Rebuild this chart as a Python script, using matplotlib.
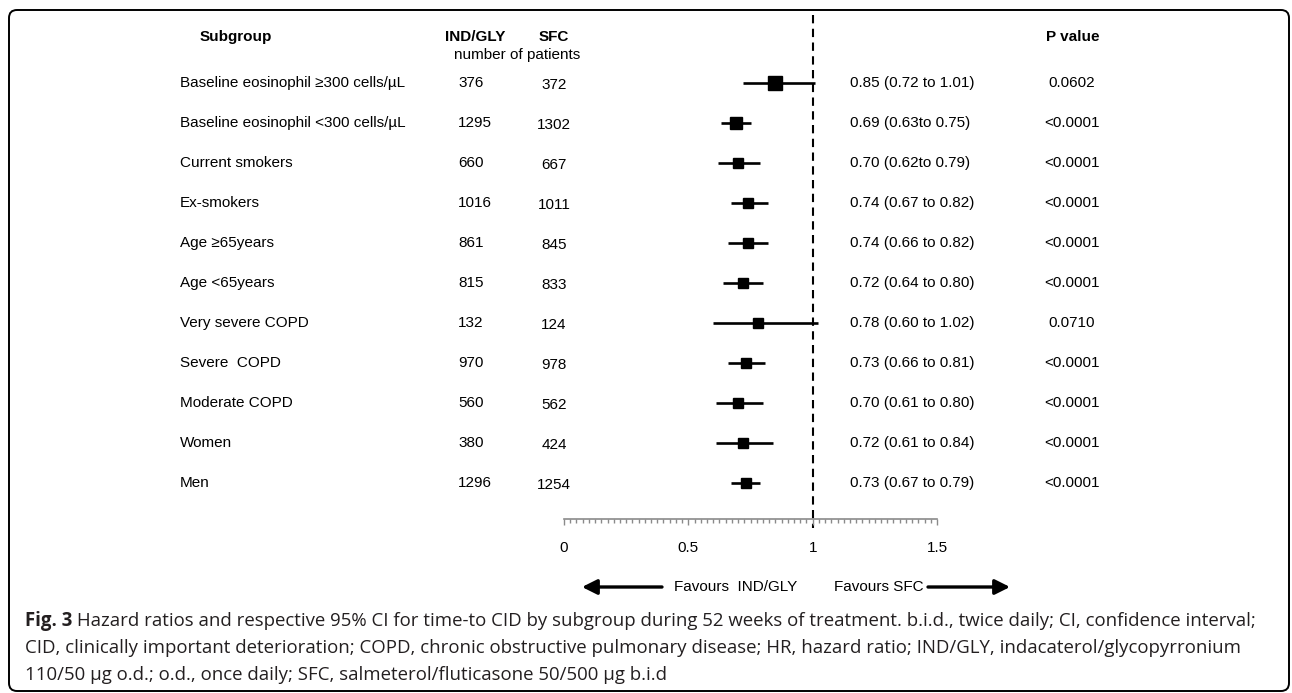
#!/usr/bin/env python3
"""Forest plot: hazard ratios for time-to CID by subgroup (IND/GLY vs SFC)."""

import matplotlib
matplotlib.use("Agg")
import matplotlib.pyplot as plt
import numpy as np
from matplotlib import transforms
from matplotlib.patches import FancyBboxPatch

W, H = 1292, 693

GROUPS = [
    "Baseline eosinophil \u2265300 cells/\u00b5L",
    "Baseline eosinophil <300 cells/\u00b5L",
    "Current smokers",
    "Ex-smokers",
    "Age \u226565years",
    "Age <65years",
    "Very severe COPD",
    "Severe  COPD",
    "Moderate COPD",
    "Women",
    "Men",
]
N_INDGLY = [376, 1295, 660, 1016, 861, 815, 132, 970, 560, 380, 1296]
N_SFC = [372, 1302, 667, 1011, 845, 833, 124, 978, 562, 424, 1254]
HR = [0.85, 0.69, 0.70, 0.74, 0.74, 0.72, 0.78, 0.73, 0.70, 0.72, 0.73]
CI_LO = [0.72, 0.63, 0.62, 0.67, 0.66, 0.64, 0.60, 0.66, 0.61, 0.61, 0.67]
CI_HI = [1.01, 0.75, 0.79, 0.82, 0.82, 0.80, 1.02, 0.81, 0.80, 0.84, 0.79]
HR_LABELS = [
    "0.85 (0.72 to 1.01)", "0.69 (0.63to 0.75)", "0.70 (0.62to 0.79)",
    "0.74 (0.67 to 0.82)", "0.74 (0.66 to 0.82)", "0.72 (0.64 to 0.80)",
    "0.78 (0.60 to 1.02)", "0.73 (0.66 to 0.81)", "0.70 (0.61 to 0.80)",
    "0.72 (0.61 to 0.84)", "0.73 (0.67 to 0.79)",
]
P_VALUES = ["0.0602", "<0.0001", "<0.0001", "<0.0001", "<0.0001", "<0.0001",
            "0.0710", "<0.0001", "<0.0001", "<0.0001", "<0.0001"]
X_TICKS = [0, 0.5, 1, 1.5]
X_TICK_LABELS = ["0", "0.5", "1", "1.5"]

CAPTION_LINES = [
    "Hazard ratios and respective 95% CI for time-to CID by subgroup during 52 weeks of "
    "treatment. b.i.d., twice daily; CI, confidence interval;",
    "CID, clinically important deterioration; COPD, chronic obstructive pulmonary disease; "
    "HR, hazard ratio; IND/GLY, indacaterol/glycopyrronium",
    "110/50 \u00b5g o.d.; o.d., once daily; SFC, salmeterol/fluticasone 50/500 \u00b5g b.i.d",
]

# marker size per row (points) - first rows drawn a bit bigger in the original
MARKER_PT = [10, 8, 7.5, 7.5, 7.5, 7.5, 7.5, 7.5, 7.5, 7.5, 7.5]

FONT = ["Liberation Sans", "DejaVu Sans"]
FS = 11
GREY = "#8a8a8a"

plt.rcParams["font.family"] = FONT


def fx(px):
    return px / W


def fy(py):
    return 1 - py / H


fig = plt.figure(figsize=(W / 100, H / 100), dpi=100)

# rows sit at pixel y = 83 + 40 * i
ROW0, ROWSTEP = 83, 40
AX_TOP, AX_BOT = 12, 519
ax = fig.add_axes([fx(564), fy(AX_BOT), fx(937) - fx(564), fy(AX_TOP) - fy(AX_BOT)])
ax.set_xlim(0, 1.5)
ax.set_ylim((AX_BOT - ROW0) / ROWSTEP, (AX_TOP - ROW0) / ROWSTEP)
ax.patch.set_alpha(0)

rows = np.arange(len(GROUPS))

# reference line at HR = 1
ax.plot([1, 1], [(15 - ROW0) / ROWSTEP, (528 - ROW0) / ROWSTEP], color="black",
        lw=1.5, ls=(0, (4, 2.6)), clip_on=False, zorder=1)

for i in rows:
    ax.plot([CI_LO[i], CI_HI[i]], [i, i], color="black", lw=1.9,
            solid_capstyle="butt", zorder=2)
    ax.plot(HR[i], i, marker="s", ms=MARKER_PT[i], color="black", zorder=3)

for side in ["top", "left", "right"]:
    ax.spines[side].set_visible(False)
ax.spines["bottom"].set_color(GREY)
ax.spines["bottom"].set_linewidth(1.2)
ax.set_yticks([])
ax.set_xticks(X_TICKS)
ax.set_xticklabels(X_TICK_LABELS)
ax.set_xticks(np.arange(0, 1.5001, 0.025), minor=True)
ax.tick_params(axis="x", which="major", direction="out", length=4, width=1,
               color=GREY, pad=12, labelsize=FS)
ax.tick_params(axis="x", which="minor", direction="out", length=3, width=1,
               color=GREY)

# text columns
trans = transforms.blended_transform_factory(fig.transFigure, ax.transData)
for i in rows:
    ax.text(fx(180), i, GROUPS[i], transform=trans, fontsize=FS, va="center", ha="left")
    ax.text(fx(458), i, str(N_INDGLY[i]), transform=trans, fontsize=FS, va="center", ha="left")
    ax.text(fx(554), i + 0.06, str(N_SFC[i]), transform=trans, fontsize=FS, va="center", ha="center")
    ax.text(fx(850), i, HR_LABELS[i], transform=trans, fontsize=FS, va="center", ha="left")
    ax.text(fx(1072), i, P_VALUES[i], transform=trans, fontsize=FS, va="center", ha="center")

# headers
fig.text(fx(200), fy(37), "Subgroup", fontsize=FS, weight="bold", va="center")
fig.text(fx(445), fy(37), "IND/GLY", fontsize=FS, weight="bold", va="center")
fig.text(fx(554), fy(37), "SFC", fontsize=FS, weight="bold", va="center", ha="center")
fig.text(fx(454), fy(55), "number of patients", fontsize=FS, va="center")
fig.text(fx(1073), fy(37), "P value", fontsize=FS, weight="bold", va="center", ha="center")

# favours arrows
arrow_kw = dict(arrowstyle="-|>,head_length=0.9,head_width=0.45", lw=2.4,
                color="black", shrinkA=0, shrinkB=0)
ax.annotate("", xy=(fx(582), fy(587)), xytext=(fx(662), fy(587)),
            xycoords="figure fraction", textcoords="figure fraction",
            arrowprops=arrow_kw, annotation_clip=False)
ax.annotate("", xy=(fx(1010), fy(587)), xytext=(fx(928), fy(587)),
            xycoords="figure fraction", textcoords="figure fraction",
            arrowprops=arrow_kw, annotation_clip=False)
fig.text(fx(736), fy(587), "Favours  IND/GLY", fontsize=FS, va="center", ha="center")
fig.text(fx(879), fy(587), "Favours SFC", fontsize=FS, va="center", ha="center")

# caption, font size fitted so the first line spans the same width as the original
renderer = fig.canvas.get_renderer()
cap_font = ["Open Sans", "DejaVu Sans"]
cap_color = "#231f20"
size = 12.0
for _ in range(3):
    tb = fig.text(0, 0, "Fig. 3", family=cap_font, weight="bold", fontsize=size)
    tr = fig.text(0, 0, " " + CAPTION_LINES[0], family=cap_font, fontsize=size)
    width = tb.get_window_extent(renderer).width + tr.get_window_extent(renderer).width
    tb.remove()
    tr.remove()
    size *= 1232 / width

baselines = [626, 653, 680]
tb = fig.text(fx(25), fy(baselines[0]), "Fig. 3", family=cap_font, weight="bold",
              fontsize=size, color=cap_color, va="baseline")
bw = tb.get_window_extent(renderer).width
fig.text(fx(25 + bw), fy(baselines[0]), " " + CAPTION_LINES[0], family=cap_font,
         fontsize=size, color=cap_color, va="baseline")
for line, yb in zip(CAPTION_LINES[1:], baselines[1:]):
    fig.text(fx(25), fy(yb), line, family=cap_font, fontsize=size, color=cap_color,
             va="baseline")

# rounded frame round the whole figure (display pixels, origin bottom left)
frame = FancyBboxPatch((9, 2), 1280, 681, boxstyle="round,pad=0,rounding_size=8",
                       transform=transforms.IdentityTransform(), fill=False,
                       lw=1.4, ec="black")
fig.patches.append(frame)

fig.savefig("out.png", dpi=100)
